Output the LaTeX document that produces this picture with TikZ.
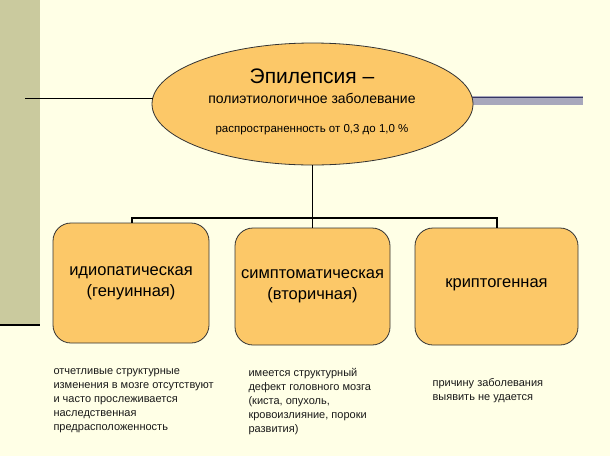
\documentclass[tikz,border=0pt]{standalone}
\usepackage{fontspec}
\setmainfont{Liberation Sans}
\usetikzlibrary{shapes.geometric}
\definecolor{bg}{HTML}{FFFFE6}
\definecolor{bar}{HTML}{CACA9E}
\definecolor{fillc}{HTML}{FCC868}
\definecolor{gbar}{HTML}{A8A8BC}
\begin{document}
\begin{tikzpicture}[x=1pt,y=-1pt,
  box/.style={draw=black!80,fill=fillc,rounded corners=18pt,line width=0.8pt,align=center,font=\fontsize{16.5}{21}\selectfont},
  note/.style={anchor=north west,align=left,font=\fontsize{11}{14}\selectfont,text=black!90},
  conn/.style={line width=1.2pt,black}]
\fill[bg] (0,0) rectangle (610,456);
\useasboundingbox (0,0) rectangle (610,456);
\fill[bar] (0,0) rectangle (40,325);
\draw[line width=1.5pt] (0,325) -- (40,325);
\fill[gbar] (471,96) rectangle (583,105);
\draw[gray!70!blue!60!black,line width=1pt] (471,97) -- (583,97);
\node[ellipse,draw=black!80,fill=fillc,line width=0.8pt,minimum width=321pt,minimum height=122pt] (e) at (312.5,104) {};
\node[font=\fontsize{21}{24}\selectfont] (t1) at (312,76) {Эпилепсия –};
\node[font=\fontsize{14}{17}\selectfont] (t2) at (312,98) {полиэтиологичное заболевание};
\node[font=\fontsize{11.5}{14}\selectfont] (t3) at (312,130) {распространенность от 0,3 до 1,0 \%};
\coordinate (l0) at (25,98);
\coordinate (l1) at (153,98);
\draw[line width=1pt] (l0) -- (l1);
\node[box,minimum width=156pt,minimum height=120pt] (b1) at (131,283) {идиопатическая\\(генуинная)};
\node[box,minimum width=155pt,minimum height=117pt] (b2) at (312.5,286.5) {симптоматическая\\(вторичная)};
\node[box,minimum width=163pt,minimum height=117pt] (b3) at (496.5,286.5) {\raisebox{6pt}{криптогенная}};
\coordinate (j) at (312.5,218);
\coordinate (j1) at (132,218);
\coordinate (j3) at (497,218);
\draw[conn] (e.south) -- (j);
\draw[conn] (j1 |- b1.north) -- (j1) -- (j3) -- (j3 |- b3.north);
\draw[conn] (j) -- (b2.north);
\node[note] (n1) at (50,365) {отчетливые структурные\\изменения в мозге отсутствуют\\и часто прослеживается\\наследственная\\предрасположенность};
\node[note] (n2) at (245,365) {имеется структурный\\дефект головного мозга\\(киста, опухоль,\\кровоизлияние, пороки\\развития)};
\node[note] (n3) at (429,375) {причину заболевания\\выявить не удается};
\end{tikzpicture}
\end{document}
